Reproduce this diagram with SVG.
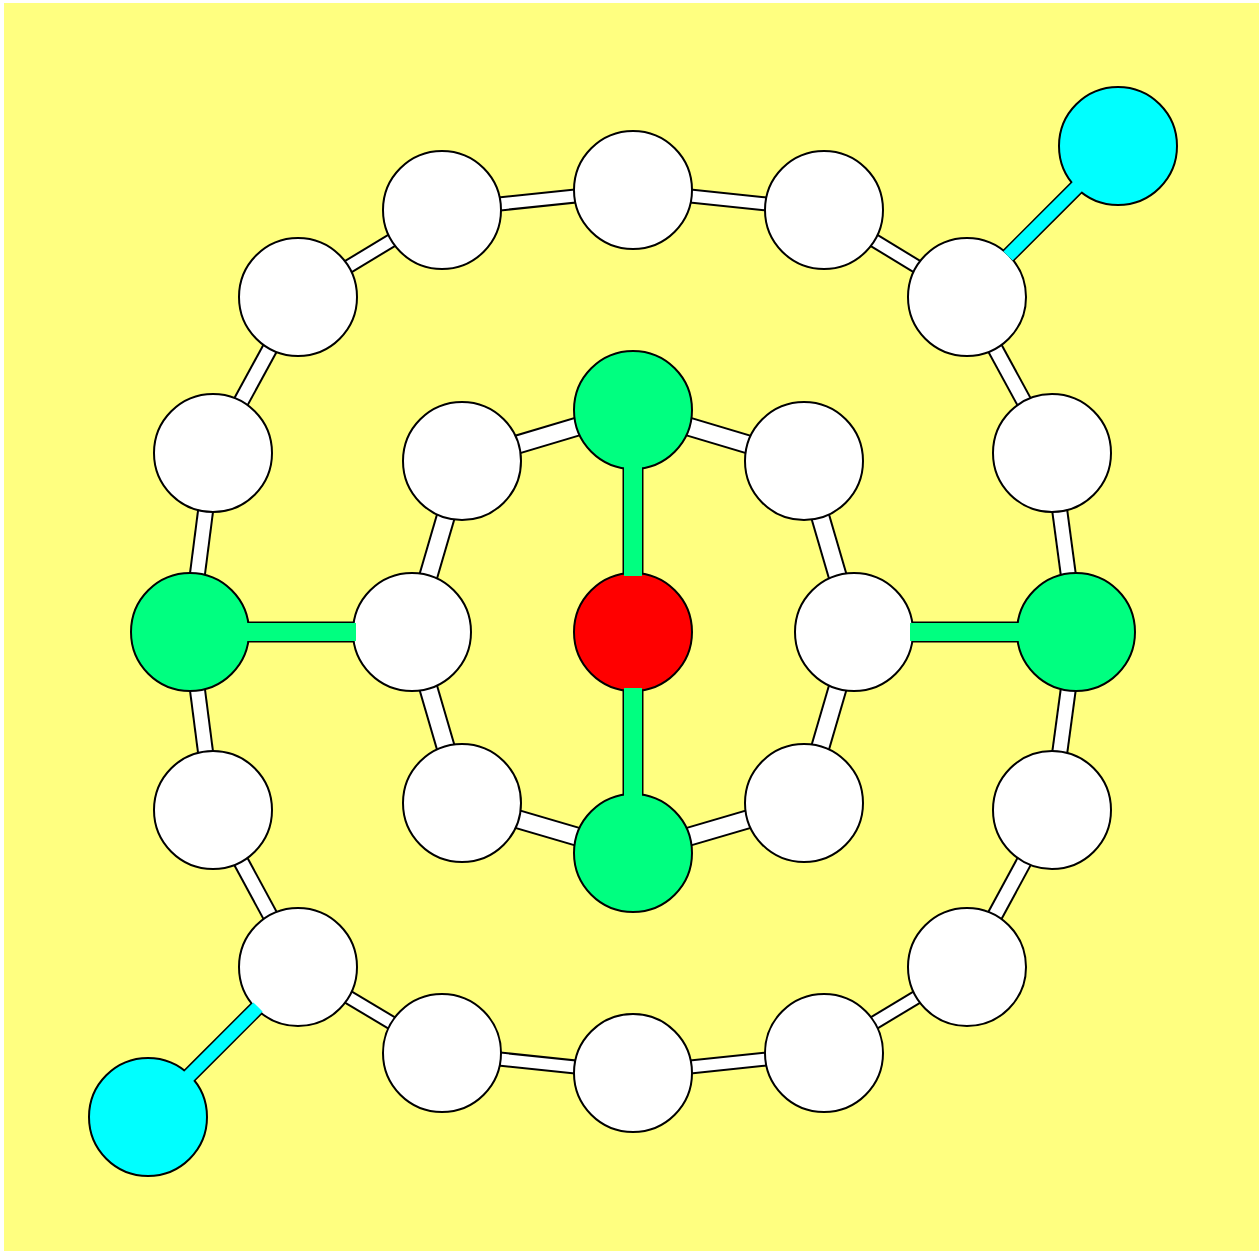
<svg xmlns="http://www.w3.org/2000/svg" width="1259" height="1251" viewBox="0 0 1259 1251">
<style>
.bg{fill:#FFFF80}
.atom{stroke:#000;stroke-width:2}
.w{fill:#FFFFFF}.g{fill:#00FF80}.c{fill:#00FFFF}.r{fill:#FF0000}
.bo{stroke:#000;stroke-linecap:butt}
.bw{stroke:#FFFFFF;stroke-linecap:butt}
.bg2{stroke:#00FF80;stroke-linecap:butt}
.bc{stroke:#00FFFF;stroke-linecap:butt}
</style>
<rect width="1259" height="1251" fill="#FFFFFF"/>
<rect class="bg" x="4" y="3" width="1255" height="1248"/>
<g id="connectors">
<!-- outer ring -->
<g id="outer-bonds">
<line class="bo" stroke-width="15" x1="633" y1="190" x2="824" y2="210"/><line class="bw" stroke-width="11" x1="633" y1="190" x2="824" y2="210"/>
<line class="bo" stroke-width="15" x1="824" y1="210" x2="967" y2="297"/><line class="bw" stroke-width="11" x1="824" y1="210" x2="967" y2="297"/>
<line class="bo" stroke-width="17" x1="967" y1="297" x2="1052" y2="453"/><line class="bw" stroke-width="13" x1="967" y1="297" x2="1052" y2="453"/>
<line class="bo" stroke-width="17" x1="1052" y1="453" x2="1076" y2="632"/><line class="bw" stroke-width="13" x1="1052" y1="453" x2="1076" y2="632"/>
<line class="bo" stroke-width="17" x1="1076" y1="632" x2="1052" y2="810"/><line class="bw" stroke-width="13" x1="1076" y1="632" x2="1052" y2="810"/>
<line class="bo" stroke-width="17" x1="1052" y1="810" x2="967" y2="967"/><line class="bw" stroke-width="13" x1="1052" y1="810" x2="967" y2="967"/>
<line class="bo" stroke-width="15" x1="967" y1="967" x2="824" y2="1053"/><line class="bw" stroke-width="11" x1="967" y1="967" x2="824" y2="1053"/>
<line class="bo" stroke-width="15" x1="824" y1="1053" x2="633" y2="1073"/><line class="bw" stroke-width="11" x1="824" y1="1053" x2="633" y2="1073"/>
<line class="bo" stroke-width="15" x1="633" y1="1073" x2="442" y2="1053"/><line class="bw" stroke-width="11" x1="633" y1="1073" x2="442" y2="1053"/>
<line class="bo" stroke-width="15" x1="442" y1="1053" x2="298" y2="967"/><line class="bw" stroke-width="11" x1="442" y1="1053" x2="298" y2="967"/>
<line class="bo" stroke-width="17" x1="298" y1="967" x2="213" y2="810"/><line class="bw" stroke-width="13" x1="298" y1="967" x2="213" y2="810"/>
<line class="bo" stroke-width="17" x1="213" y1="810" x2="190" y2="632"/><line class="bw" stroke-width="13" x1="213" y1="810" x2="190" y2="632"/>
<line class="bo" stroke-width="17" x1="190" y1="632" x2="213" y2="453"/><line class="bw" stroke-width="13" x1="190" y1="632" x2="213" y2="453"/>
<line class="bo" stroke-width="17" x1="213" y1="453" x2="298" y2="297"/><line class="bw" stroke-width="13" x1="213" y1="453" x2="298" y2="297"/>
<line class="bo" stroke-width="15" x1="298" y1="297" x2="442" y2="210"/><line class="bw" stroke-width="11" x1="298" y1="297" x2="442" y2="210"/>
<line class="bo" stroke-width="15" x1="442" y1="210" x2="633" y2="190"/><line class="bw" stroke-width="11" x1="442" y1="210" x2="633" y2="190"/>
</g>
<g id="inner-bonds">
<line class="bo" stroke-width="20" x1="633" y1="410" x2="804" y2="461"/><line class="bw" stroke-width="16" x1="633" y1="410" x2="804" y2="461"/>
<line class="bo" stroke-width="20" x1="804" y1="461" x2="854" y2="632"/><line class="bw" stroke-width="16" x1="804" y1="461" x2="854" y2="632"/>
<line class="bo" stroke-width="20" x1="854" y1="632" x2="804" y2="803"/><line class="bw" stroke-width="16" x1="854" y1="632" x2="804" y2="803"/>
<line class="bo" stroke-width="20" x1="804" y1="803" x2="633" y2="853"/><line class="bw" stroke-width="16" x1="804" y1="803" x2="633" y2="853"/>
<line class="bo" stroke-width="20" x1="633" y1="853" x2="462" y2="803"/><line class="bw" stroke-width="16" x1="633" y1="853" x2="462" y2="803"/>
<line class="bo" stroke-width="20" x1="462" y1="803" x2="412" y2="632"/><line class="bw" stroke-width="16" x1="462" y1="803" x2="412" y2="632"/>
<line class="bo" stroke-width="20" x1="412" y1="632" x2="462" y2="461"/><line class="bw" stroke-width="16" x1="412" y1="632" x2="462" y2="461"/>
<line class="bo" stroke-width="20" x1="462" y1="461" x2="633" y2="410"/><line class="bw" stroke-width="16" x1="462" y1="461" x2="633" y2="410"/>
</g>
<g id="colored-bonds">
<line class="bo" stroke-width="21" x1="633" y1="410" x2="633" y2="853"/>
<line class="bo" stroke-width="21" x1="190" y1="632" x2="412" y2="632"/>
<line class="bo" stroke-width="21" x1="854" y1="632" x2="1076" y2="632"/>
<line class="bo" stroke-width="16" x1="967" y1="297" x2="1118" y2="146"/>
<line class="bo" stroke-width="16" x1="298" y1="967" x2="148" y2="1117"/>
</g>
</g>
<g id="atoms">
<g id="o1"><circle class="atom w" cx="633" cy="190" r="59"/></g>
<g id="o2"><circle class="atom w" cx="824" cy="210" r="59"/></g>
<g id="o3"><circle class="atom w" cx="967" cy="297" r="59"/></g>
<g id="o4"><circle class="atom w" cx="1052" cy="453" r="59"/></g>
<g id="o5"><circle class="atom g" cx="1076" cy="632" r="59"/></g>
<g id="o6"><circle class="atom w" cx="1052" cy="810" r="59"/></g>
<g id="o7"><circle class="atom w" cx="967" cy="967" r="59"/></g>
<g id="o8"><circle class="atom w" cx="824" cy="1053" r="59"/></g>
<g id="o9"><circle class="atom w" cx="633" cy="1073" r="59"/></g>
<g id="o10"><circle class="atom w" cx="442" cy="1053" r="59"/></g>
<g id="o11"><circle class="atom w" cx="298" cy="967" r="59"/></g>
<g id="o12"><circle class="atom w" cx="213" cy="810" r="59"/></g>
<g id="o13"><circle class="atom g" cx="190" cy="632" r="59"/></g>
<g id="o14"><circle class="atom w" cx="213" cy="453" r="59"/></g>
<g id="o15"><circle class="atom w" cx="298" cy="297" r="59"/></g>
<g id="o16"><circle class="atom w" cx="442" cy="210" r="59"/></g>
<g id="i1"><circle class="atom g" cx="633" cy="410" r="59"/></g>
<g id="i2"><circle class="atom w" cx="804" cy="461" r="59"/></g>
<g id="i3"><circle class="atom w" cx="854" cy="632" r="59"/></g>
<g id="i4"><circle class="atom w" cx="804" cy="803" r="59"/></g>
<g id="i5"><circle class="atom g" cx="633" cy="853" r="59"/></g>
<g id="i6"><circle class="atom w" cx="462" cy="803" r="59"/></g>
<g id="i7"><circle class="atom w" cx="412" cy="632" r="59"/></g>
<g id="i8"><circle class="atom w" cx="462" cy="461" r="59"/></g>
<g id="center"><circle class="atom r" cx="633" cy="632" r="59"/></g>
<g id="cyan1"><circle class="atom c" cx="1118" cy="146" r="59"/></g>
<g id="cyan2"><circle class="atom c" cx="148" cy="1117" r="59"/></g>
</g>
<g id="connector-fills">
<line class="bg2" stroke-width="18" x1="633" y1="466" x2="633" y2="576"/>
<line class="bg2" stroke-width="18" x1="633" y1="688" x2="633" y2="797"/>
<line class="bg2" stroke-width="18" x1="246" y1="632" x2="356" y2="632"/>
<line class="bg2" stroke-width="18" x1="910" y1="632" x2="1020" y2="632"/>
<line class="bc" stroke-width="13" x1="1008" y1="256" x2="1078" y2="186"/>
<line class="bc" stroke-width="13" x1="258" y1="1007" x2="188" y2="1077"/>
</g>
</svg>
